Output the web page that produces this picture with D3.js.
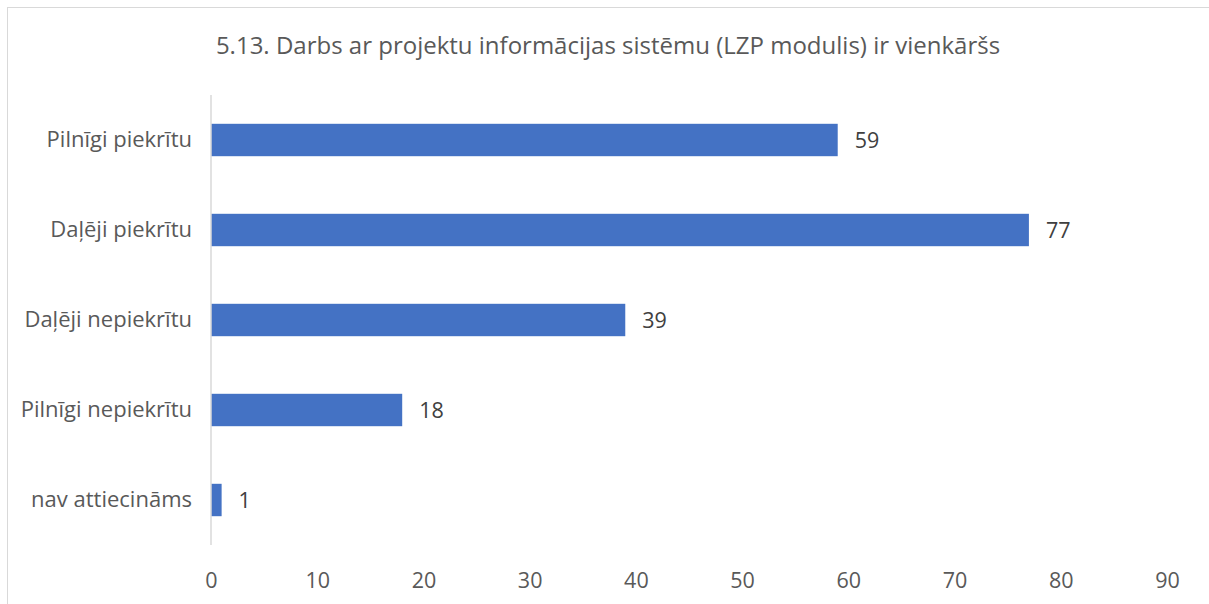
<!DOCTYPE html>
<html>
<head>
<meta charset="utf-8">
<script src="https://cdn.jsdelivr.net/npm/d3@7"></script>
<style>
  body { margin: 0; background: #fff; }
  svg { font-family: "Open Sans", sans-serif; }
</style>
</head>
<body>
<svg id="chart" width="1209" height="604"></svg>
<script>
const title = "5.13. Darbs ar projektu informācijas sistēmu (LZP modulis) ir vienkāršs"
const categories = ["Pilnīgi piekrītu", "Daļēji piekrītu", "Daļēji nepiekrītu", "Pilnīgi nepiekrītu", "nav attiecināms"]
const values = [59, 77, 39, 18, 1]
const xTicks = [0, 10, 20, 30, 40, 50, 60, 70, 80, 90]

const svg = d3.select("#chart")
const margin = {top: 95, right: 42, bottom: 59, left: 211}
const width = 1209
const height = 604
const font = "'Open Sans', sans-serif"

// chart frame
svg.append("rect")
  .attr("x", 7.5).attr("y", 7.5)
  .attr("width", 1220).attr("height", 620)
  .attr("fill", "none")
  .attr("stroke", "#d9d9d9")

svg.append("text")
  .attr("x", 608)
  .attr("y", 54)
  .attr("text-anchor", "middle")
  .attr("font-size", 24)
  .attr("fill", "#595959")
  .text(title)

const data = categories.map((c, i) => ({ category: c, value: values[i] }))

const xScale = d3.scaleLinear()
  .domain([0, 90])
  .range([margin.left, width - margin.right])

const yScale = d3.scaleBand()
  .domain(categories)
  .range([margin.top, height - margin.bottom])
  .paddingInner(0.64)
  .paddingOuter(0.32)

const xAxis = svg.append("g")
  .attr("transform", `translate(0, ${height - margin.bottom})`)
  .call(d3.axisBottom(xScale).tickValues(xTicks).tickSize(0).tickPadding(28))
xAxis.select(".domain").remove()
xAxis.selectAll("text")
  .attr("font-size", 21.5)
  .attr("font-family", font)
  .attr("fill", "#595959")

const yAxis = svg.append("g")
  .attr("transform", `translate(${margin.left}, 0)`)
  .call(d3.axisLeft(yScale).tickSize(0).tickPadding(19))
yAxis.select(".domain").remove()
yAxis.selectAll("text")
  .attr("font-size", 22)
  .attr("font-family", font)
  .attr("fill", "#595959")

svg.selectAll(".bar")
  .data(data)
  .enter()
  .append("rect")
  .attr("class", "bar")
  .attr("x", xScale(0))
  .attr("y", d => yScale(d.category))
  .attr("width", d => xScale(d.value) - xScale(0))
  .attr("height", yScale.bandwidth())
  .attr("fill", "#4472c4")

// vertical axis line on top of bars
svg.append("line")
  .attr("x1", xScale(0)).attr("x2", xScale(0))
  .attr("y1", margin.top).attr("y2", height - margin.bottom)
  .attr("stroke", "#d9d9d9")
  .attr("stroke-width", 1.5)

svg.selectAll(".value")
  .data(data)
  .enter()
  .append("text")
  .attr("class", "value")
  .attr("x", d => xScale(d.value) + 17)
  .attr("y", d => yScale(d.category) + yScale.bandwidth() / 2)
  .attr("dy", "0.35em")
  .attr("font-size", 21.5)
  .attr("fill", "#404040")
  .text(d => d.value)
</script>
</body>
</html>
